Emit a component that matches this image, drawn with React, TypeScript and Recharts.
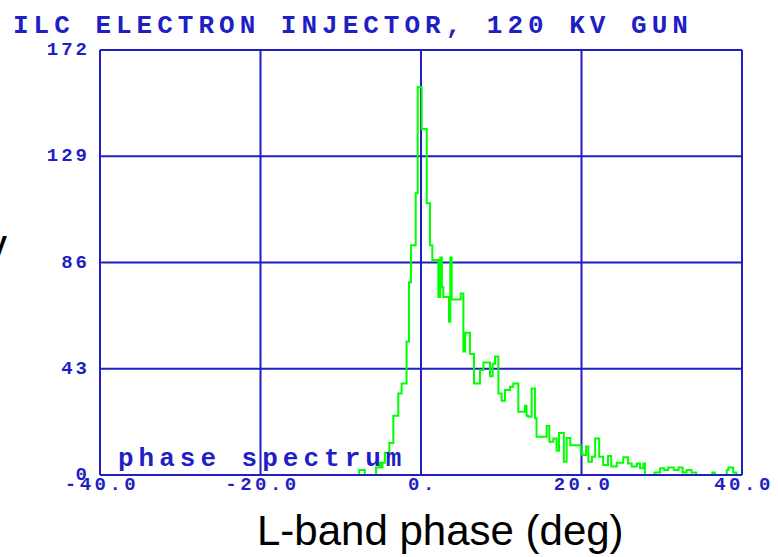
import { LineChart, Line, XAxis, YAxis, CartesianGrid } from "recharts"

// left edge of each histogram bin (deg) and its count
const binStart = [
  -40, -7.7, -7.0, -5.6, -5.1, -4.95, -4.8, -4.5, -3.95, -3.45, -2.83, -2.41,
  -1.8, -1.5, -1.25, -0.66, -0.41, 0.08, 0.71, 1.12, 1.41, 2.16, 2.4, 2.6,
  2.78, 3.49, 3.65, 3.82, 4.94, 5.28, 5.5, 6.1, 6.6, 7.35, 7.77, 8.6, 8.93,
  9.22, 9.64, 10.05, 10.47, 11.09, 11.5, 12.13, 12.96, 13.15, 13.37, 13.79,
  14.2, 14.4, 15.66, 15.99, 16.49, 16.9, 17.2, 17.8, 18.15, 18.6, 19.9, 20.1,
  20.56, 20.85, 21.3, 21.7, 22.2, 22.7, 23.3, 23.7, 24.4, 25.2, 25.8, 26.25,
  26.9, 27.3, 27.7, 27.9, 29.1, 29.8, 30.3, 30.8, 31.5, 32.1, 32.6, 33.1,
  33.7, 34.3, 36.3, 36.6, 38.1, 38.3, 38.9, 39.3,
]
const counts = [
  0, 2, 0, 3, 5, 3, 5, 9, 13, 24, 33, 37,
  54, 78, 93, 114, 157, 140, 110, 93, 87, 72, 88, 76,
  72, 62, 88, 71, 73.5, 50, 57.6, 49, 37, 42.5, 45.5, 40, 45,
  48, 33, 30, 34.4, 35.7, 37, 25.6, 28, 24, 23.6, 35,
  23, 15.5, 19.8, 13.5, 14.8, 9.8, 17, 5.4, 15, 12, 9.4, 8.1,
  11.5, 5.4, 7.4, 14.8, 7.4, 4, 7.7, 3.4, 5, 7.2, 4.7, 3.4,
  4.7, 2.7, 4.7, 0, 1, 2.7, 2, 3, 2, 3, 1, 2,
  1, 0, 1, 0, 2, 3, 1, 0,
]

const xTicks = [-40, -20, 0, 20, 40]
const xTickLabels = ["-40.0", "-20.0", "0.", "20.0", "40.0"]
const yTicks = [0, 43, 86, 129, 172]

const BLUE = "#1f1fc4"
const GREEN = "#00ff00"
const MONO = "'Liberation Mono', 'Courier New', monospace"

const data = [
  ...binStart.map((x, i) => ({ x, count: counts[i] })),
  { x: 40, count: counts[counts.length - 1] },
]

const YTick = ({ x, y, payload }: any) => (
  <text
    x={x}
    y={y}
    textAnchor="end"
    dominantBaseline="central"
    fill={BLUE}
    fontFamily={MONO}
    fontWeight="bold"
    fontSize={19}
    style={{ letterSpacing: 3 }}
  >
    {payload.value}
  </text>
)

const XTick = ({ x, y, payload }: any) => {
  const i = xTicks.indexOf(payload.value)
  return (
    <text
      x={x + 2}
      y={y + 15}
      textAnchor="middle"
      fill={BLUE}
      fontFamily={MONO}
      fontWeight="bold"
      fontSize={19}
      style={{ letterSpacing: 3.5 }}
    >
      {xTickLabels[i]}
    </text>
  )
}

export default function App() {
  return (
    <div style={{ position: "absolute", left: 0, top: 0, width: 778, height: 557, background: "#fff" }}>
      <LineChart
        width={778}
        height={557}
        data={data}
        margin={{ top: 50, right: 36, bottom: 52, left: 0 }}
      >
        <CartesianGrid stroke={BLUE} strokeWidth={2} />
        <XAxis
          type="number"
          dataKey="x"
          domain={[-40, 40]}
          ticks={xTicks}
          height={30}
          tickSize={0}
          tickMargin={0}
          axisLine={{ stroke: BLUE, strokeWidth: 2 }}
          tickLine={false}
          tick={<XTick />}
          allowDataOverflow
        />
        <YAxis
          type="number"
          domain={[0, 172]}
          ticks={yTicks}
          width={100}
          tickSize={0}
          tickMargin={10}
          axisLine={{ stroke: BLUE, strokeWidth: 2 }}
          tickLine={false}
          tick={<YTick />}
          allowDataOverflow
        />
        <Line
          type="stepAfter"
          dataKey="count"
          stroke={GREEN}
          strokeWidth={2}
          dot={false}
          isAnimationActive={false}
        />
      </LineChart>
      <svg
        width={778}
        height={557}
        style={{ position: "absolute", left: 0, top: 0, pointerEvents: "none" }}
      >
        <text x={13} y={33} fill={BLUE} fontFamily={MONO} fontWeight="bold" fontSize={26} style={{ letterSpacing: 5 }}>
          ILC ELECTRON INJECTOR, 120 KV GUN
        </text>
        <text x={118} y={466} fill={BLUE} fontFamily={MONO} fontWeight="bold" fontSize={26} style={{ letterSpacing: 5 }}>
          phase spectrum
        </text>
        <text x={257} y={545} fill="#000" fontFamily="'Liberation Sans', Arial, sans-serif" fontSize={42}>
          L-band phase (deg)
        </text>
        <text x={-14} y={259} fill="#000" fontFamily="'Liberation Sans', Arial, sans-serif" fontSize={42}>
          v
        </text>
      </svg>
    </div>
  )
}
